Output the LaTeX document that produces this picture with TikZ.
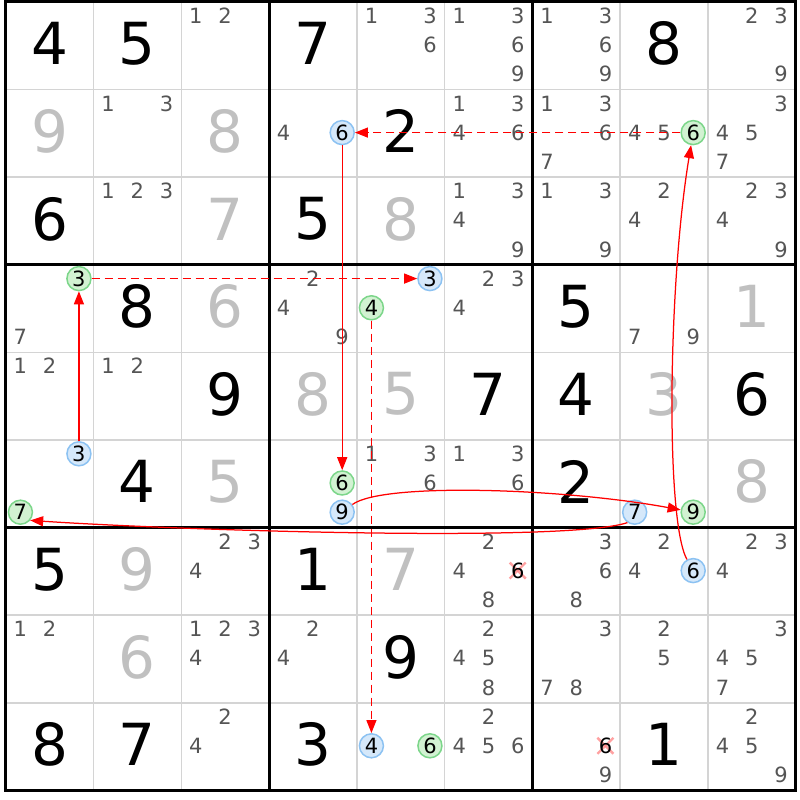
\documentclass[tikz,border=0pt]{standalone}
\usepackage{fontspec}
\setmainfont{DejaVu Sans}
\usetikzlibrary{arrows.meta,calc}
\definecolor{candc}{HTML}{555555}
\definecolor{solvc}{HTML}{C0C0C0}
\definecolor{gridc}{HTML}{D4D4D4}
\definecolor{bfill}{HTML}{D5E8FA}
\definecolor{bdraw}{HTML}{8CC2F2}
\definecolor{gfill}{HTML}{D2F2D2}
\definecolor{gdraw}{HTML}{7CD68A}
\definecolor{xcol}{HTML}{FF8A8A}
\newcommand\candX[2]{5.8+(#1-1)*87.75+(2*mod(#2-1,3)+1)*14.625}
\newcommand\candY[2]{798.8-(#1-1)*87.6-(2*floor((#2-1)/3)+1)*14.6}
\newcommand\cand[3]{\foreach \dd in {#3}{\node[cnd] (n#1#2\dd) at ({\candX{#2}{\dd}},{\candY{#1}{\dd}}) {\dd};}}
\newcommand\hl[4]{\node[#4] (n#1#2#3) at ({\candX{#2}{#3}},{\candY{#1}{#3}}) {#3};}
\newcommand\gv[3]{\node[given] (g#1#2) at ({5.8+(#2-0.5)*87.75},{800-(#1-0.5)*87.6}) {#3};}
\newcommand\sv[3]{\node[solved] (g#1#2) at ({5.8+(#2-0.5)*87.75},{800-(#1-0.5)*87.6}) {#3};}
\newcommand\elim[3]{\coordinate (x#1#2#3) at ({\candX{#2}{#3}},{\candY{#1}{#3}});
  \draw[xmk] ($(x#1#2#3)+(-8,-8)$) -- ($(x#1#2#3)+(8,8)$);
  \draw[xmk] ($(x#1#2#3)+(-8,8)$) -- ($(x#1#2#3)+(8,-8)$);
  \node[cnd,text=black] (n#1#2#3) at (x#1#2#3) {#3};}
\begin{document}
\begin{tikzpicture}[x=1pt,y=1pt,
  given/.style={font=\fontsize{58}{58}\selectfont, text=black, inner sep=0pt},
  solved/.style={given, text=solvc},
  cnd/.style={font=\fontsize{21}{21}\selectfont, text=candc, inner sep=0pt},
  hb/.style={circle, draw=bdraw, fill=bfill, line width=1.5pt, minimum size=24pt, inner sep=0pt, font=\fontsize{21}{21}\selectfont, text=black},
  hg/.style={hb, draw=gdraw, fill=gfill},
  lnk/.style={draw=red, line width=1.25pt, -{Triangle[length=13pt,width=10pt]}},
  dsh/.style={dash pattern=on 8pt off 5pt},
  xmk/.style={draw=xcol, line width=2.4pt, opacity=0.8},
  thin/.style={draw=gridc, line width=1.5pt},
  thick/.style={draw=black, line width=3pt, line cap=rect}]
\useasboundingbox[fill=white] (0,0) rectangle (800,800);
% grid
\foreach \i in {1,2,4,5,7,8}{
  \draw[thin] ({5.8+\i*87.75},798) -- ({5.8+\i*87.75},{798-9*87.6});
  \draw[thin] (5.8,{798-\i*87.6}) -- ({5.8+9*87.75},{798-\i*87.6});
}
\foreach \i in {0,3,6,9}{
  \draw[thick] ({5.8+\i*87.75},798) -- ({5.8+\i*87.75},{798-9*87.6});
  \draw[thick] (5.8,{798-\i*87.6}) -- ({5.8+9*87.75},{798-\i*87.6});
}
% row 1
\gv{1}{1}{4}\gv{1}{2}{5}\cand{1}{3}{1,2}\gv{1}{4}{7}\cand{1}{5}{1,3,6}\cand{1}{6}{1,3,6,9}\cand{1}{7}{1,3,6,9}\gv{1}{8}{8}\cand{1}{9}{2,3,9}
% row 2
\sv{2}{1}{9}\cand{2}{2}{1,3}\sv{2}{3}{8}\cand{2}{4}{4}\hl{2}{4}{6}{hb}\gv{2}{5}{2}\cand{2}{6}{1,3,4,6}\cand{2}{7}{1,3,6,7}\cand{2}{8}{4,5}\hl{2}{8}{6}{hg}\cand{2}{9}{3,4,5,7}
% row 3
\gv{3}{1}{6}\cand{3}{2}{1,2,3}\sv{3}{3}{7}\gv{3}{4}{5}\sv{3}{5}{8}\cand{3}{6}{1,3,4,9}\cand{3}{7}{1,3,9}\cand{3}{8}{2,4}\cand{3}{9}{2,3,4,9}
% row 4
\cand{4}{1}{7}\hl{4}{1}{3}{hg}\gv{4}{2}{8}\sv{4}{3}{6}\cand{4}{4}{2,4,9}\hl{4}{5}{3}{hb}\hl{4}{5}{4}{hg}\cand{4}{6}{2,3,4}\gv{4}{7}{5}\cand{4}{8}{7,9}\sv{4}{9}{1}
% row 5
\cand{5}{1}{1,2}\cand{5}{2}{1,2}\gv{5}{3}{9}\sv{5}{4}{8}\sv{5}{5}{5}\gv{5}{6}{7}\gv{5}{7}{4}\sv{5}{8}{3}\gv{5}{9}{6}
% row 6
\hl{6}{1}{3}{hb}\hl{6}{1}{7}{hg}\gv{6}{2}{4}\sv{6}{3}{5}\hl{6}{4}{6}{hg}\hl{6}{4}{9}{hb}\cand{6}{5}{1,3,6}\cand{6}{6}{1,3,6}\gv{6}{7}{2}\hl{6}{8}{7}{hb}\hl{6}{8}{9}{hg}\sv{6}{9}{8}
% row 7
\gv{7}{1}{5}\sv{7}{2}{9}\cand{7}{3}{2,3,4}\gv{7}{4}{1}\sv{7}{5}{7}\cand{7}{6}{2,4,8}\elim{7}{6}{6}\cand{7}{7}{3,6,8}\cand{7}{8}{2,4}\hl{7}{8}{6}{hb}\cand{7}{9}{2,3,4}
% row 8
\cand{8}{1}{1,2}\sv{8}{2}{6}\cand{8}{3}{1,2,3,4}\cand{8}{4}{2,4}\gv{8}{5}{9}\cand{8}{6}{2,4,5,8}\cand{8}{7}{3,7,8}\cand{8}{8}{2,5}\cand{8}{9}{3,4,5,7}
% row 9
\gv{9}{1}{8}\gv{9}{2}{7}\cand{9}{3}{2,4}\gv{9}{4}{3}\hl{9}{5}{4}{hb}\hl{9}{5}{6}{hg}\cand{9}{6}{2,4,5,6}\elim{9}{7}{6}\cand{9}{7}{9}\gv{9}{8}{1}\cand{9}{9}{2,4,5,9}
% links
\draw[lnk,dsh] (n286) -- (n246);
\draw[lnk] (n246) -- (n646);
\draw[lnk] (n649) .. controls +(40,30) and +(-130,24) .. (n689);
\draw[lnk] (n687.235) .. controls +(-60,-20) and +(150,-10) .. (n617.-40);
\draw[lnk] (n613) -- (n413);
\draw[lnk,dsh] (n413) -- (n453);
\draw[lnk,dsh] (n454) -- (n954);
\draw[lnk] (n786) .. controls +(-28,50) and +(-25,-150) .. (n286);
\end{tikzpicture}
\end{document}
